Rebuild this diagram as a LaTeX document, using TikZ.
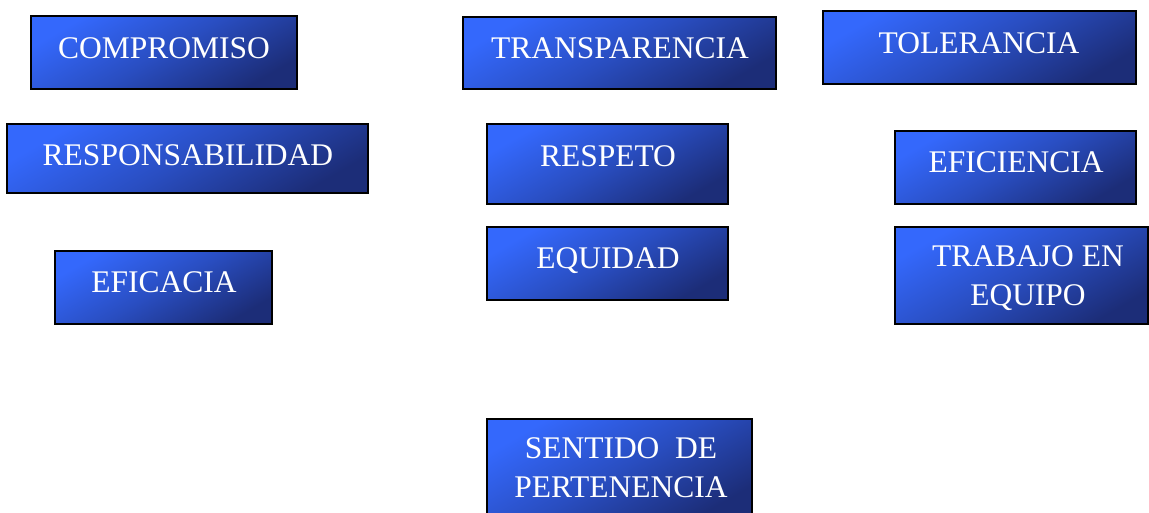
\documentclass[tikz,border=0pt]{standalone}
\usepackage{fontspec}
\setmainfont{Liberation Serif}
\definecolor{boxlight}{HTML}{3468FC}
\definecolor{boxdark}{HTML}{1C2D78}
\tikzset{
  valuebox/.style={draw=black, line width=1.8pt, rectangle, inner sep=0pt,
    top color=boxlight, bottom color=boxdark, middle color=boxlight!55!boxdark, shading angle=30},
  valuetext/.style={text=white, font=\fontsize{31.5}{38.5}\selectfont, align=center, inner sep=0pt, anchor=base}
}
\newcommand{\vbx}[5]{% name, left, top, right, bottom
  \node[valuebox, minimum width={#4pt-#2pt}, minimum height={#5pt-#3pt}] (#1) at ({(#2+#4)/2},{(#3+#5)/2}) {};}
\begin{document}
\begin{tikzpicture}[x=1pt,y=-1pt]
\useasboundingbox (0,0) rectangle (1149,512);
\begin{scope}
\clip (0,0) rectangle (1149,512);
\vbx{b1}{31}{16}{297}{89}
\vbx{b2}{463}{17}{776}{89}
\vbx{b3}{823}{11}{1136}{84}
\vbx{b4}{7}{124}{368}{193}
\vbx{b5}{487}{124}{728}{204}
\vbx{b6}{895}{131}{1136}{204}
\vbx{b7}{55}{251}{272}{324}
\vbx{b8}{487}{227}{728}{300}
\vbx{b9}{895}{227}{1148}{324}
\vbx{b10}{487}{419}{752}{520}
\end{scope}
\node[valuetext] (t1) at (164,58) {COMPROMISO};
\node[valuetext] (t2) at (620,58) {TRANSPARENCIA};
\node[valuetext] (t3) at (979,53) {TOLERANCIA};
\node[valuetext] (t4) at (188,165) {RESPONSABILIDAD};
\node[valuetext] (t5) at (608,166) {RESPETO};
\node[valuetext] (t6) at (1016,172) {EFICIENCIA};
\node[valuetext] (t7) at (164,292) {EFICACIA};
\node[valuetext] (t8) at (608,268) {EQUIDAD};
\node[valuetext] (t9) at (1028,305) {TRABAJO EN\\EQUIPO};
\node[valuetext] (t10) at (621,497) {SENTIDO\ \ DE\\PERTENENCIA};
\end{tikzpicture}
\end{document}
